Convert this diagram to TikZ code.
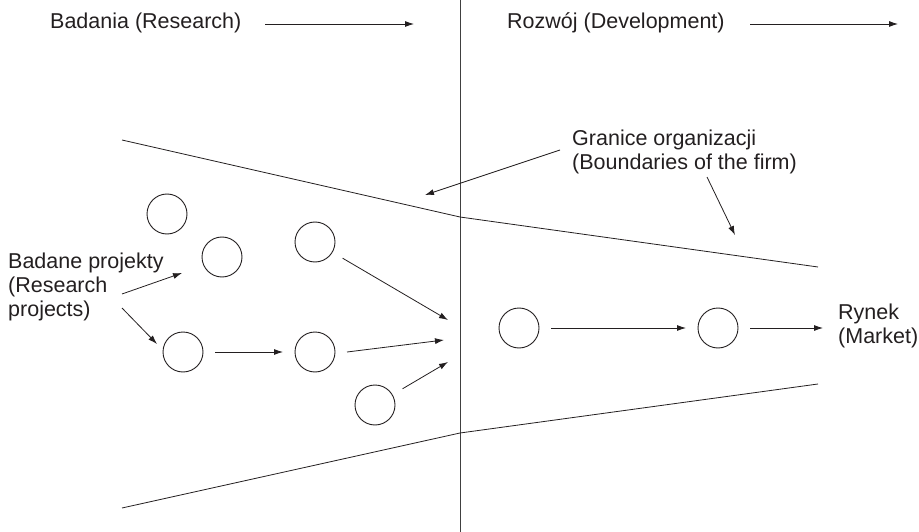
\documentclass[tikz,border=0pt]{standalone}
\usepackage{fontspec}
\setmainfont{Liberation Sans}
\usepackage{tikz}
\usetikzlibrary{arrows.meta, positioning}
\definecolor{inkgray}{RGB}{35,31,32}

\tikzset{
    proj/.style={circle, draw=inkgray, line width=0.9pt, minimum size=40pt, inner sep=0pt, outer sep=12pt},
    flow/.style={-{Latex[length=9pt, width=6pt]}, line width=0.8pt, draw=inkgray},
    txt/.style={align=left, inner sep=0pt, text=inkgray, font=\fontsize{21.5}{24}\selectfont}
}

\begin{document}
\begin{tikzpicture}[x=1pt, y=-1pt]
    \useasboundingbox (0,0) rectangle (919,532);

    % Phases
    \node[txt, anchor=west] (res) at (50, 23) {Badania (Research)};
    \node[txt, anchor=west] (dev) at (507, 23) {Rozwój (Development)};
    \coordinate (resA) at (265, 24);
    \coordinate (resB) at (414, 24);
    \coordinate (devA) at (750, 24);
    \coordinate (devB) at (898, 24);
    \draw[flow] (resA) -- (resB);
    \draw[flow] (devA) -- (devB);

    % Divider
    \coordinate (divT) at (460, 0);
    \coordinate (divB) at (460, 532);
    \draw[line width=0.9pt, black!75] (divT) -- (divB);

    % Boundaries of the firm
    \coordinate (upL) at (122, 140);
    \coordinate (upM) at (460, 217);
    \coordinate (upR) at (818, 267);
    \coordinate (loL) at (122, 508);
    \coordinate (loM) at (460, 433);
    \coordinate (loR) at (818, 384);
    \draw[line width=0.8pt, inkgray] (upL) -- (upM) -- (upR);
    \draw[line width=0.8pt, inkgray] (loL) -- (loM) -- (loR);

    % Projects
    \node[proj] (p1) at (167, 214) {};
    \node[proj] (p2) at (222, 257) {};
    \node[proj] (p3) at (315, 242) {};
    \node[proj] (p4) at (183, 352) {};
    \node[proj] (p5) at (315, 352) {};
    \node[proj] (p6) at (375, 405) {};
    \node[proj] (d1) at (519, 328) {};
    \node[proj] (d2) at (718, 328) {};

    % Labels
    \node[txt, anchor=north west] (projects) at (8, 253) {Badane projekty\\(Research\\projects)};
    \node[txt, anchor=north west] (market) at (838, 304) {Rynek\\(Market)};
    \node[txt, anchor=north west] (bound) at (572, 130) {Granice organizacji\\(Boundaries of the firm)};

    % Arrows
    \coordinate (prA) at (122, 294);
    \coordinate (prB) at (182, 273);
    \coordinate (prC) at (122, 308);
    \coordinate (prD) at (157, 344);
    \draw[flow] (prA) -- (prB);
    \draw[flow] (prC) -- (prD);
    \draw[flow] (p4) -- (p5);
    \coordinate (in1) at (448, 320);
    \coordinate (in2) at (444, 340);
    \coordinate (in3) at (448, 362);
    \draw[flow] (p3) -- (in1);
    \draw[flow] (p5.east) -- (in2);
    \draw[flow] (p6) -- (in3);
    \draw[flow] (d1) -- (d2);
    \coordinate (mk) at (823, 328);
    \draw[flow] (d2) -- (mk);
    \coordinate (bdA) at (560, 150);
    \coordinate (bdB) at (425, 195);
    \coordinate (bdC) at (707, 177);
    \coordinate (bdD) at (735, 235);
    \draw[flow] (bdA) -- (bdB);
    \draw[flow] (bdC) -- (bdD);
\end{tikzpicture}
\end{document}
